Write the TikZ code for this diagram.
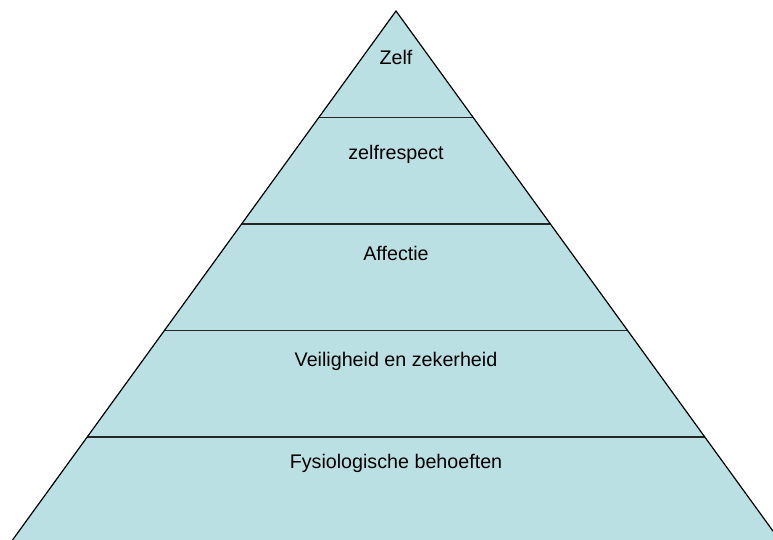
\documentclass[tikz,border=0pt]{standalone}
\usepackage{fontspec}
\setmainfont{Liberation Sans}
\definecolor{pyrfill}{RGB}{187,224,227}
\tikzset{
  lbl/.style={anchor=base, inner sep=0pt, font=\fontsize{19.7}{23}\selectfont, text=black},
  band/.style={draw=black!85, line width=1.6pt},
  outline/.style={draw=black, line width=1.2pt, line join=miter}
}
\begin{document}
\begin{tikzpicture}[x=1pt,y=1pt]
\useasboundingbox (0,0) rectangle (773,540);
\clip (0,0) rectangle (773,540);
\coordinate (apex) at (396,529);
\coordinate (bl) at (10,-3.5);
\coordinate (br) at (782,-3.5);
\fill[pyrfill] (apex) -- (br) -- (bl) -- cycle;
% band separators
\coordinate (l1) at (318.8,422.5); \coordinate (r1) at (473.2,422.5);
\coordinate (l2) at (241.6,316);   \coordinate (r2) at (550.4,316);
\coordinate (l3) at (164.4,209.5); \coordinate (r3) at (627.6,209.5);
\coordinate (l4) at (87.1,103);    \coordinate (r4) at (704.9,103);
\draw[band] (l1) -- (r1);
\draw[band] (l2) -- (r2);
\draw[band] (l3) -- (r3);
\draw[band] (l4) -- (r4);
\draw[outline] (bl) -- (apex) -- (br);
% labels
\node[lbl] (t1) at (396,475) {Zelf};
\node[lbl] (t2) at (396,380) {zelfrespect};
\node[lbl] (t3) at (396,279) {Affectie};
\node[lbl] (t4) at (396,173.3) {Veiligheid en zekerheid};
\node[lbl] (t5) at (396,71) {Fysiologische behoeften};
\end{tikzpicture}
\end{document}
